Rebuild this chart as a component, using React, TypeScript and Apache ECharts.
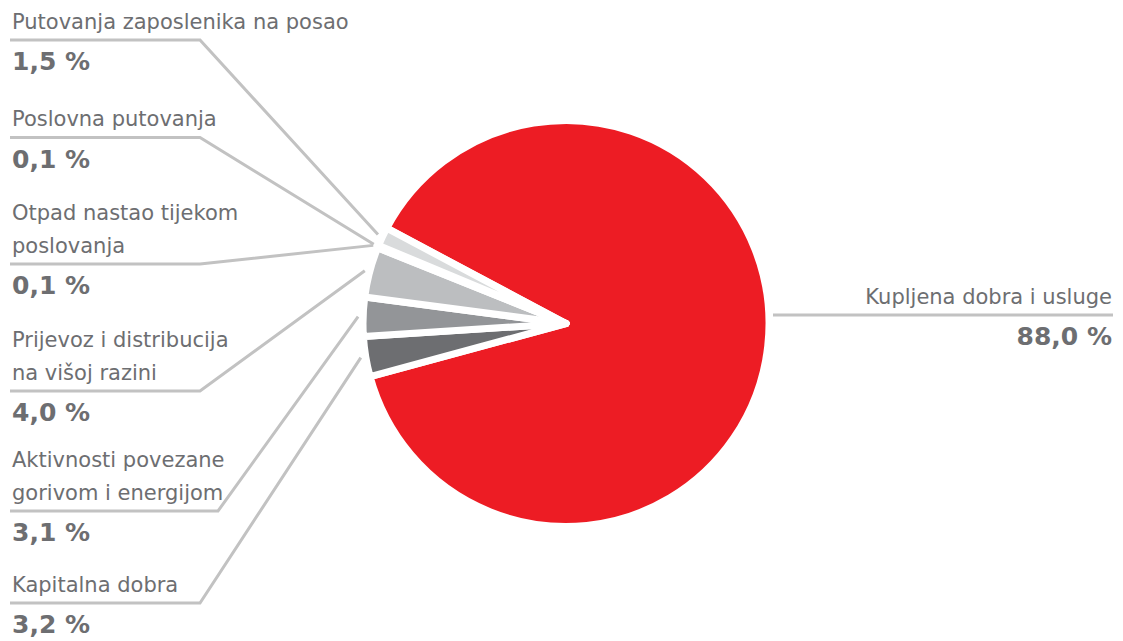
import React, { useEffect, useRef } from "react";
import * as echarts from "echarts";

// ---- data ----
const categories = [
  "Kupljena dobra i usluge",
  "Kapitalna dobra",
  "Aktivnosti povezane\ngorivom i energijom",
  "Prijevoz i distribucija\nna višoj razini",
  "Otpad nastao tijekom\nposlovanja",
  "Poslovna putovanja",
  "Putovanja zaposlenika na posao",
];
const values = [88.0, 3.2, 3.1, 4.0, 0.1, 0.1, 1.5];
const sliceColors = ["#ED1C24", "#6D6E71", "#939598", "#BCBEC0", "#C9CBCC", "#D1D3D4", "#D9DBDC"];

// ---- layout (not data) ----
const W = 1123;
const H = 641;
const CX = 566;
const CY = 323.5;
const R = 203;
const START = 152;
const TEXT = "#6D6E71";
const LINE = "#C2C2C2";
const FONT = "DejaVu Sans";
// underline y for each label (by data index), and x where the leader line bends
const underlineY = [315, 603, 511, 391, 264, 137.5, 40];
const bendX = [0, 200, 218, 200, 200, 200, 200];

const fmt = (v: number) => v.toFixed(1).replace(".", ",") + " %";

export default function App() {
  const ref = useRef<HTMLDivElement>(null);
  useEffect(() => {
    document.body.style.margin = "0";
    const chart = echarts.init(ref.current as HTMLDivElement, null, { renderer: "svg" });
    const total = values.reduce((a, b) => a + b, 0);
    const midAngle = (i: number) => {
      let cum = 0;
      for (let k = 0; k < i; k++) cum += values[k];
      cum += values[i] / 2;
      return ((START - (cum / total) * 360) * Math.PI) / 180;
    };
    chart.setOption({
      animation: false,
      series: [
        {
          type: "pie",
          center: [CX, CY],
          radius: R,
          startAngle: START,
          clockwise: true,
          avoidLabelOverlap: false,
          emphasis: { disabled: true },
          data: categories.map((name, i) => ({
            name,
            value: values[i],
            itemStyle: { color: sliceColors[i] },
          })),
          itemStyle: { borderColor: "#ffffff", borderWidth: 7 },
          label: {
            show: true,
            position: "outside",
            color: TEXT,
            fontFamily: FONT,
            formatter: (p: any) =>
              String(p.name)
                .split("\n")
                .map((l) => `{n|${l}}`)
                .join("\n") + `\n{v|${fmt(p.value)}}`,
            rich: {
              n: { fontSize: 21, lineHeight: 33, color: TEXT, fontFamily: FONT },
              v: { fontSize: 25, lineHeight: 47, fontWeight: "bold", color: TEXT, fontFamily: FONT },
            },
          },
          labelLine: { show: true, smooth: false, lineStyle: { color: LINE, width: 3 } },
          labelLayout: (params: any) => {
            const i = params.dataIndex;
            const nLines = String(categories[i]).split("\n").length;
            const uy = underlineY[i];
            const top = uy - 33 * nLines - 2;
            if (i === 0) {
              const x0 = CX + R + 4;
              return {
                x: W - 11,
                y: top,
                align: "right",
                verticalAlign: "top",
                labelLinePoints: [
                  [x0, uy],
                  [(x0 + W - 10) / 2, uy],
                  [W - 10, uy],
                ],
              };
            }
            const a = midAngle(i);
            const r2 = R + 5;
            const p0 = [CX + r2 * Math.cos(a), CY - r2 * Math.sin(a)];
            return {
              x: 12,
              y: top,
              align: "left",
              verticalAlign: "top",
              labelLinePoints: [p0, [bendX[i], uy], [10, uy]],
            };
          },
        },
      ],
    });
    return () => chart.dispose();
  }, []);
  return <div ref={ref} style={{ width: W, height: H }} />;
}
